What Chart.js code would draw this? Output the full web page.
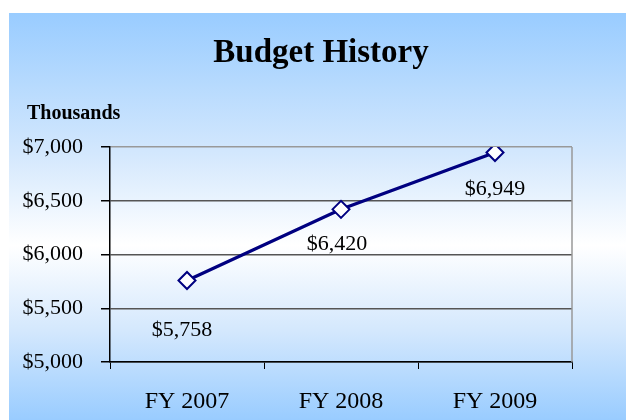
<!DOCTYPE html>
<html>
<head>
<meta charset="utf-8">
<script src="https://cdn.jsdelivr.net/npm/chart.js@4.4.1/dist/chart.umd.min.js"></script>
<style>
  html, body { margin: 0; padding: 0; background: #fff; }
  #fundo {
    position: absolute; left: 9px; top: 13px; width: 617px; height: 407px;
    background: linear-gradient(to bottom, #99ccff 0%, #d4e8fd 35%, #ffffff 57%, #d4e8fd 78%, #99ccff 100%);
  }
  #caixa { position: absolute; left: 0; top: 0; width: 626px; height: 420px; }
</style>
</head>
<body>
<div id="fundo"></div>
<div id="caixa"><canvas id="grafico" width="626" height="420"></canvas></div>
<script>
const anos = ['FY 2007', 'FY 2008', 'FY 2009'];
const orcamento = [5758, 6420, 6949];
const eixoY = [5000, 5500, 6000, 6500, 7000];

// deslocamento (px) de cada rótulo de valor em relação ao ponto
const deslocRotulos = [[-5, 50], [-4, 35], [0, 37]];

const serif = "'Liberation Serif', 'Times New Roman', serif";

function formatarDolar(v) {
    return '$' + v.toLocaleString('en-US');
}

// borda direita da área do gráfico
const bordaDireita = {
    id: 'bordaDireita',
    beforeDatasetsDraw(chart) {
        const a = chart.chartArea;
        const ctx = chart.ctx;
        ctx.save();
        ctx.strokeStyle = '#999999';
        ctx.lineWidth = 1.5;
        ctx.beginPath();
        ctx.moveTo(a.right, a.top);
        ctx.lineTo(a.right, a.bottom);
        ctx.stroke();
        ctx.restore();
    }
};

// título, unidade e rótulos dos pontos
const textos = {
    id: 'textos',
    afterDatasetsDraw(chart) {
        const ctx = chart.ctx;
        ctx.save();
        ctx.fillStyle = '#000';
        ctx.textBaseline = 'alphabetic';

        ctx.font = 'bold 33px ' + serif;
        ctx.textAlign = 'center';
        ctx.fillText('Budget History', 321, 62);

        ctx.font = 'bold 20px ' + serif;
        ctx.textAlign = 'left';
        ctx.fillText('Thousands', 27, 119);

        ctx.font = '22px ' + serif;
        ctx.textAlign = 'center';
        ctx.textBaseline = 'middle';
        const meta = chart.getDatasetMeta(0);
        meta.data.forEach((p, i) => {
            const d = deslocRotulos[i];
            ctx.fillText(formatarDolar(orcamento[i]), p.x + d[0], p.y + d[1]);
        });
        ctx.restore();
    }
};

new Chart(document.getElementById('grafico'), {
    type: 'line',
    data: {
        labels: anos,
        datasets: [{
            data: orcamento,
            borderColor: '#000080',
            borderWidth: 3.2,
            pointStyle: 'rectRot',
            pointRadius: 8.5,
            pointBorderWidth: 2,
            pointBackgroundColor: '#ffffff',
            pointBorderColor: '#000080',
            tension: 0
        }]
    },
    options: {
        responsive: false,
        animation: false,
        layout: { padding: { left: 0, right: 54, top: 147, bottom: 0 } },
        plugins: {
            legend: { display: false },
            tooltip: { enabled: false }
        },
        scales: {
            x: {
                offset: true,
                grid: {
                    offset: true,
                    drawOnChartArea: false,
                    tickColor: '#000',
                    tickLength: 7
                },
                border: { color: '#000', width: 1.5 },
                ticks: {
                    color: '#000',
                    font: { family: serif, size: 24 },
                    padding: 18,
                    maxRotation: 0
                },
                afterFit(scale) { scale.height = 58; }
            },
            y: {
                min: eixoY[0],
                max: eixoY[eixoY.length - 1],
                afterBuildTicks(scale) { scale.ticks = eixoY.map(v => ({ value: v })); },
                grid: {
                    color: c => c.tick && c.tick.value === eixoY[eixoY.length - 1] ? '#999999' : '#555555',
                    lineWidth: 1.5,
                    tickColor: '#000',
                    tickLength: 9
                },
                border: { color: '#000', width: 1.5 },
                ticks: {
                    color: '#000',
                    font: { family: serif, size: 22 },
                    padding: 18,
                    callback: v => formatarDolar(v)
                },
                afterFit(scale) { scale.width = 110; }
            }
        }
    },
    plugins: [bordaDireita, textos]
});
</script>
</body>
</html>
